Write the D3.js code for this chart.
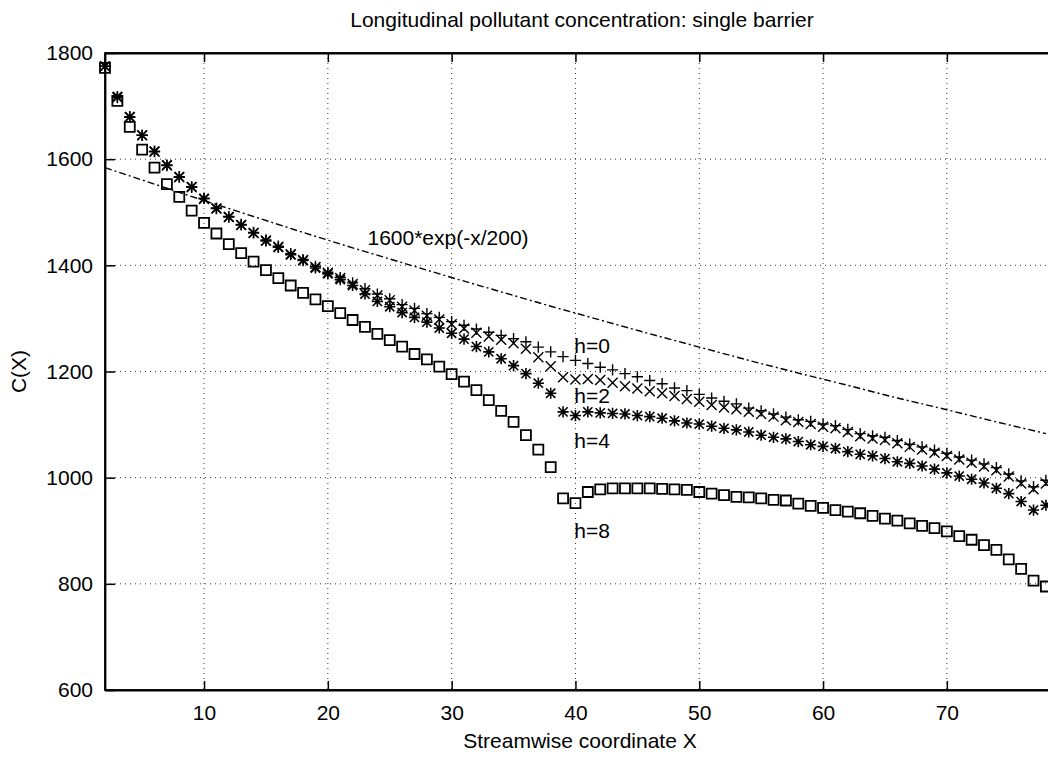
<!DOCTYPE html>
<html>
<head>
<meta charset="utf-8">
<script src="https://cdn.jsdelivr.net/npm/d3@7"></script>
<style>
  body { margin: 0; background: #fff; }
  svg text { font-family: "Liberation Sans", Arial, sans-serif; fill: #000; }
</style>
</head>
<body>
<div id="chart"></div>
<script>
// streamwise positions of the samples
const xPos = [2,3,4,5,6,7,8,9,10,11,12,13,14,15,16,17,18,19,20,21,22,23,24,25,26,27,28,29,30,
  31,32,33,34,35,36,37,38,39,40,41,42,43,44,45,46,47,48,49,50,51,52,53,54,55,56,57,58,59,60,
  61,62,63,64,65,66,67,68,69,70,71,72,73,74,75,76,77,78]

// h=0 (+)
const h0 = [1775,1716,1679,1645,1614,1588,1566,1547,1526,1508,1492,1477,1462,1448,1436,1422,1411,1398,1387,1377,
  1367,1356,1346,1337,1326,1319,1309,1302,1294,1287,1280,1274,1268,1262,1256,1246,1237,1228,1221,1215,
  1208,1203,1196,1190,1183,1177,1169,1164,1157,1150,1144,1139,1131,1126,1120,1114,1109,1106,1101,1098,
  1091,1083,1079,1076,1070,1063,1058,1052,1046,1039,1033,1026,1019,1007,994,983,995]

// h=2 (x)
const h2 = [1775,1716,1679,1645,1614,1588,1566,1547,1525,1507,1491,1476,1461,1447,1435,1421,1410,1397,1386,1376,
  1365,1353,1343,1334,1322,1315,1305,1298,1289,1281,1273,1266,1260,1253,1243,1227,1210,1189,1185,1186,
  1184,1179,1172,1168,1163,1159,1154,1148,1143,1137,1132,1129,1124,1120,1115,1108,1105,1101,1096,1093,
  1086,1078,1074,1071,1065,1058,1053,1047,1041,1034,1028,1021,1014,1002,989,978,989]

// h=4 (*)
const h4 = [1775,1718,1680,1645,1615,1589,1567,1548,1526,1507,1491,1476,1461,1446,1434,1420,1409,1395,1384,1373,
  1362,1346,1332,1322,1311,1302,1293,1282,1272,1261,1247,1237,1224,1211,1196,1178,1159,1124,1117,1124,
  1122,1121,1120,1117,1115,1112,1107,1103,1101,1097,1093,1090,1086,1080,1076,1073,1068,1062,1059,1055,
  1049,1044,1041,1036,1030,1027,1022,1016,1009,1003,997,990,980,970,955,939,948]

// h=8 (squares)
const h8 = [1772,1710,1661,1618,1584,1553,1529,1503,1480,1460,1440,1423,1407,1391,1376,1362,1348,1336,1323,1310,
  1297,1284,1271,1259,1247,1233,1223,1209,1195,1181,1165,1146,1126,1105,1080,1053,1020,961,952,973,
  978,980,980,980,980,979,978,977,973,970,967,964,963,961,958,957,951,947,943,939,
  936,933,928,923,919,914,909,905,899,890,883,873,864,846,828,806,795]

// reference curve 1600*exp(-x/200)
const refX = [2,6,10,14,18,22,26,30,34,38,42,46,50,54,58,62,66,70,74,78]
const refY = [1584,1553,1522,1492,1462,1433,1405,1377,1350,1323,1297,1271,1246,1221,1197,1174,1150,1128,1105,1083]

const xTicks = [10,20,30,40,50,60,70]
const yTicks = [600,800,1000,1200,1400,1600,1800]

const W = 1048, H = 759
const pl = 105, pt = 53, pr = 1049, pb = 690

const svg = d3.select("#chart").append("svg")
  .attr("width", W).attr("height", H)
svg.append("rect").attr("width", W).attr("height", H).attr("fill", "#fff")

const x = d3.scaleLinear().domain([2, 78.25]).range([pl, pr])
const y = d3.scaleLinear().domain([600, 1800]).range([pb, pt])

// dotted grid
const grid = svg.append("g")
  .attr("stroke", "#333").attr("stroke-width", 1).attr("stroke-dasharray", "1,4")
grid.selectAll(".gx").data(xTicks).enter().append("line")
  .attr("x1", d => x(d)).attr("x2", d => x(d))
  .attr("y1", pt).attr("y2", pb)
grid.selectAll(".gy").data(yTicks.slice(1, -1)).enter().append("line")
  .attr("x1", pl).attr("x2", pr)
  .attr("y1", d => y(d)).attr("y2", d => y(d))

// axes, ticks pointing inwards
svg.append("g")
  .attr("transform", "translate(0," + pb + ")")
  .call(d3.axisBottom(x).tickValues(xTicks).tickSizeInner(-9).tickSizeOuter(0).tickPadding(15))
svg.append("g")
  .attr("transform", "translate(" + pl + ",0)")
  .call(d3.axisLeft(y).tickValues(yTicks).tickFormat(d3.format("d"))
    .tickSizeInner(-10).tickSizeOuter(0).tickPadding(12))
svg.append("g")
  .attr("transform", "translate(0," + pt + ")")
  .call(d3.axisTop(x).tickValues(xTicks).tickSizeInner(-9).tickSizeOuter(0).tickFormat(""))

svg.selectAll(".domain").attr("stroke", "#000").attr("stroke-width", 1.8)
svg.selectAll(".tick line").attr("stroke", "#000").attr("stroke-width", 1.5)
svg.selectAll(".tick text").attr("font-size", "21px").attr("fill", "#000")
  .style("font-family", '"Liberation Sans", Arial, sans-serif')

svg.append("rect")
  .attr("x", pl).attr("y", pt)
  .attr("width", pr - pl).attr("height", pb - pt)
  .attr("fill", "none").attr("stroke", "#000").attr("stroke-width", 1.8)

// dash-dot reference curve
const refLine = d3.line()
  .x((d, i) => x(refX[i]))
  .y(d => y(d))
svg.append("path")
  .attr("d", refLine(refY))
  .attr("fill", "none")
  .attr("stroke", "#000")
  .attr("stroke-width", 1.4)
  .attr("stroke-dasharray", "7,3,2,3")

// point markers
function marker(type) {
  const p = d3.path()
  const s = 5.6
  if (type == "square") {
    p.rect(-5, -5, 10, 10)
  }
  if (type == "plus" || type == "star") {
    p.moveTo(-s, 0); p.lineTo(s, 0)
    p.moveTo(0, -s); p.lineTo(0, s)
  }
  if (type == "times" || type == "star") {
    const t = type == "star" ? 4.6 : 5
    p.moveTo(-t, -t); p.lineTo(t, t)
    p.moveTo(-t, t); p.lineTo(t, -t)
  }
  return p.toString()
}

const series = [
  {values: h8, type: "square", width: 1.8},
  {values: h4, type: "star", width: 1.6},
  {values: h2, type: "times", width: 1.4},
  {values: h0, type: "plus", width: 1.4}
]

series.forEach(function(s) {
  svg.append("g").selectAll("path")
    .data(s.values)
    .enter()
    .append("path")
    .attr("transform", (d, i) => "translate(" + x(xPos[i]) + "," + y(d) + ")")
    .attr("d", marker(s.type))
    .attr("fill", "none")
    .attr("stroke", "#000")
    .attr("stroke-width", s.width)
})

// annotations
const notes = [
  {t: "1600*exp(-x/200)", xv: 23.2, yv: 1438},
  {t: "h=0", xv: 39.9, yv: 1235},
  {t: "h=2", xv: 39.9, yv: 1141},
  {t: "h=4", xv: 39.9, yv: 1056},
  {t: "h=8", xv: 39.9, yv: 887}
]
svg.selectAll(".note").data(notes).enter().append("text")
  .attr("x", d => x(d.xv)).attr("y", d => y(d.yv))
  .attr("font-size", "21px")
  .text(d => d.t)

// title and axis labels
svg.append("text")
  .attr("x", 582).attr("y", 27)
  .attr("text-anchor", "middle")
  .attr("font-size", "21px")
  .text("Longitudinal pollutant concentration: single barrier")

svg.append("text")
  .attr("x", 580).attr("y", 748)
  .attr("text-anchor", "middle")
  .attr("font-size", "21px")
  .text("Streamwise coordinate X")

svg.append("text")
  .attr("transform", "translate(26," + (pt + pb) / 2 + ") rotate(-90)")
  .attr("text-anchor", "middle")
  .attr("font-size", "21px")
  .text("C(X)")
</script>
</body>
</html>
